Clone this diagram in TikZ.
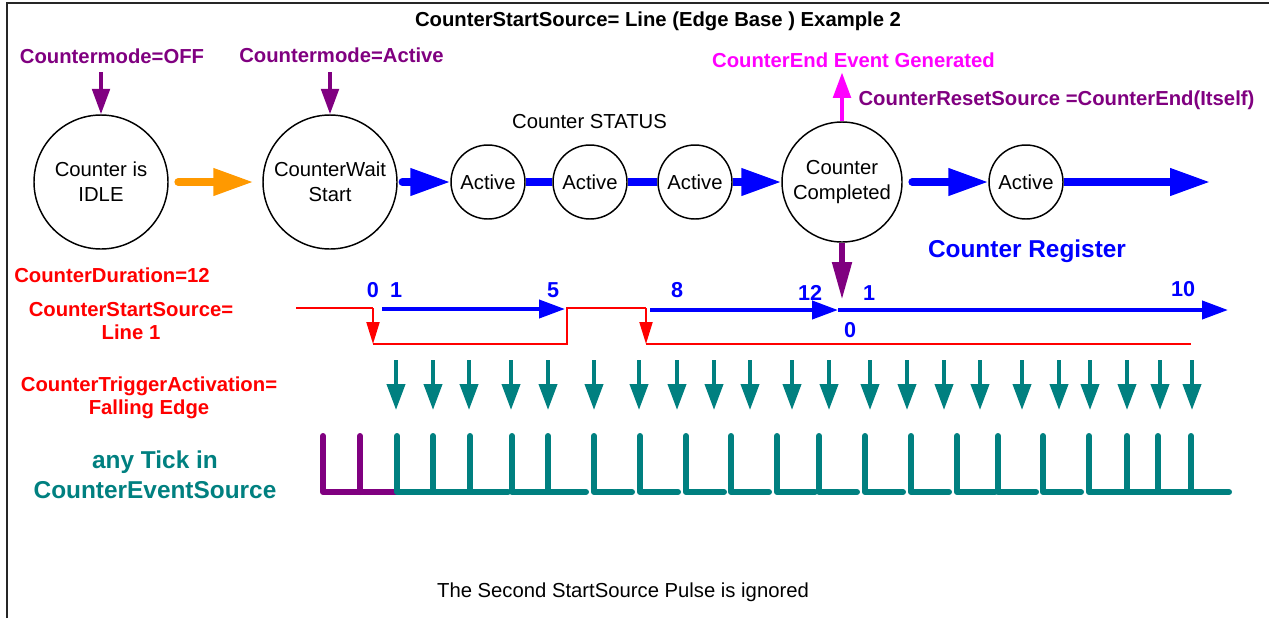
\documentclass[tikz,border=0pt]{standalone}
\usepackage{fontspec}
\setmainfont{Liberation Sans}
\usepackage{tikz}
\usetikzlibrary{arrows.meta}
\definecolor{cnPurple}{HTML}{800080}
\definecolor{cnMagenta}{HTML}{FF00FF}
\definecolor{cnBlue}{HTML}{0000FF}
\definecolor{cnRed}{HTML}{FF0000}
\definecolor{cnTeal}{HTML}{008080}
\definecolor{cnOrange}{HTML}{FF9900}
\newcommand{\cntfont}{\fontsize{15.2}{17.25}\selectfont}
\newcommand{\cntbig}{\fontsize{18.3}{22.5}\selectfont}
\tikzset{
  statecircle/.style={
    circle, draw=black, line width=1.1pt,
    minimum size=#1, inner sep=0pt,
    align=center,
    font=\fontsize{15.2}{18.75}\selectfont
  },
  statecircle/.default=100.5pt,
  lbl/.style={
    text=#1, inner sep=0pt, align=center,
    font=\cntfont\bfseries
  },
  numlbl/.style={lbl=cnBlue, anchor=base, font=\fontsize{16.2}{18}\selectfont\bfseries},
  flowarrow/.style={
    draw=#1, line width=5.5pt, line cap=round,
    -{Triangle[length=30pt, width=19.5pt]}
  },
  flowbar/.style={draw=cnBlue, line width=5.5pt},
  markarrow/.style={
    draw=#1, line width=3pt,
    -{Triangle[length=19pt, width=13pt]}
  },
  resetarrow/.style={
    draw=cnPurple, line width=4.5pt,
    -{Triangle[length=28.5pt, width=14pt]}
  },
  sigline/.style={draw=cnRed, line width=1.5pt},
  sigtip/.style={-{Triangle[length=16.5pt, width=9.75pt]}},
  countarrow/.style={
    draw=cnBlue, line width=3pt,
    -{Triangle[length=19.5pt, width=13.5pt]}
  },
  trigarrow/.style={
    draw=cnTeal, line width=3pt,
    -{Triangle[length=19.5pt, width=13.5pt]}
  },
  tickmark/.style={draw=#1, line width=4.5pt, line cap=round, line join=round}
}
\begin{document}
\begin{tikzpicture}[x=0.75pt, y=-0.75pt]
  \useasboundingbox (0,0) rectangle (1269,618);
  \draw[black!85, line width=1.1pt] (7,618) -- (7,3) -- (1269,3);
  \node[lbl=black, anchor=base] (title) at (658,26) {CounterStartSource= Line (Edge Base ) Example 2};

  \node[lbl=cnPurple, anchor=base] (cmoff) at (112,63) {Countermode=OFF};
  \node[lbl=cnPurple, anchor=base] (cmactive) at (341.5,62) {Countermode=Active};
  \node[anchor=base, inner sep=0pt, font=\cntfont] (status) at (589.5,128) {Counter STATUS};
  \node[lbl=cnMagenta, anchor=base] (endevt) at (853.5,67) {CounterEnd Event Generated};
  \node[lbl=cnPurple, anchor=base] (resetsrc) at (1056.5,105) {CounterResetSource =CounterEnd(Itself)};

  \node[statecircle] (idle) at (101,182) {Counter is\\IDLE};
  \node[statecircle] (wait) at (330,182) {CounterWait\\Start};
  \node[statecircle=55.5pt] (act1) at (488,182) {Active};
  \node[statecircle=55.5pt] (act2) at (590,182) {Active};
  \node[statecircle=55.5pt] (act3) at (695,182) {Active};
  \node[statecircle=90pt] (done) at (842,182) {Counter\\Completed};
  \node[statecircle=55.5pt] (act4) at (1026,182) {Active};
  \coordinate (regend) at (1210,182);
  \coordinate (rstpt) at (842,300);

  \draw[markarrow=cnPurple, shorten <=6.75pt] (cmoff.south -| idle.north) -- (idle.north);
  \draw[markarrow=cnPurple, shorten <=7.5pt] (cmactive.south -| wait.north) -- (wait.north);
  \draw[markarrow=cnMagenta, shorten >=3.75pt] (done.north) -- (done.north |- endevt.south);
  \draw[resetarrow] (done.south) -- (rstpt);

  \draw[flowarrow=cnOrange, shorten <=7pt, shorten >=6.75pt] (idle) -- (wait);
  \draw[flowarrow=cnBlue, shorten <=3.4pt] (wait) -- (act1);
  \draw[flowbar] (act1) -- (act2);
  \draw[flowbar] (act2) -- (act3);
  \draw[flowarrow=cnBlue, line cap=butt] (act3) -- (done);
  \draw[flowarrow=cnBlue, shorten <=7pt] (done) -- (act4);
  \draw[flowarrow=cnBlue, line cap=butt] (act4) -- (regend);

  \node[lbl=cnBlue, anchor=base, font=\cntbig\bfseries] (register) at (1027,257) {Counter Register};
  \node[lbl=cnRed, anchor=base] (duration) at (112,282) {CounterDuration=12};
  \node[lbl=cnRed, anchor=north] (startsrc) at (131,302) {CounterStartSource=\\Line 1};
  \node[lbl=cnRed, anchor=north] (trigact) at (149,377) {CounterTriggerActivation=\\Falling Edge};
  \node[lbl=cnTeal, anchor=north, font=\cntbig\bfseries] (ticksrc) at (155,451) {any Tick in\\CounterEventSource};

  \draw[sigline] (296,308) -- (373,308);
  \draw[sigline, sigtip] (373,308) -- (373,344);
  \draw[sigline] (373,344) -- (567,344) -- (567,308) -- (646,308);
  \draw[sigline, sigtip] (646,308) -- (646,344);
  \draw[sigline] (646,344) -- (1191,344);

  \draw[countarrow] (382,309) -- (565,309);
  \draw[countarrow] (650,310) -- (838,310);
  \draw[countarrow] (838,310) -- (1228,310);
  \node[numlbl] (n0) at (373,297) {0};
  \node[numlbl] (n1) at (396,297) {1};
  \node[numlbl] (n5) at (553,297) {5};
  \node[numlbl] (n8) at (677,297) {8};
  \node[numlbl] (n12) at (810,300) {12};
  \node[numlbl] (m1) at (869,300) {1};
  \node[numlbl] (n10) at (1183,296) {10};
  \node[numlbl] (m0) at (850,337) {0};

  \foreach \x in {396,433,469,511,548,594,639,677,714,750,792,829,870,907,944,980,1022,1059,1090,1127,1160,1192}
    \draw[trigarrow] (\x,360) -- (\x,410);

  \draw[tickmark=cnPurple] (323,436) -- (323,492) -- (398,492);
  \draw[tickmark=cnPurple] (360,436) -- (360,492);
  \foreach \x in {397,433,470,512,548,594,640,686,731,777,819,865,911,957,998,1043,1089,1127,1158,1191}
    \draw[tickmark=cnTeal] (\x,436) -- (\x,492) -- ++(38,0);

  \node[anchor=base, inner sep=0pt, font=\cntfont] (note) at (623,597) {The Second StartSource Pulse is ignored};
\end{tikzpicture}
\end{document}
